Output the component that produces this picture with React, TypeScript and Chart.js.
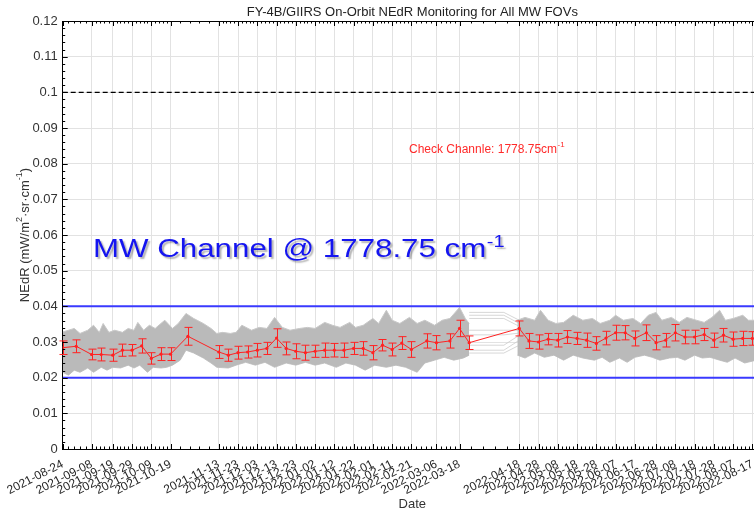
import React, { useEffect, useRef } from "react";
import { Chart, registerables } from "chart.js";

Chart.register(...registerables);

// ---------- data (days counted from 2021-08-24) ----------
const START = "2021-08-24";
const xMaxDay = 363;

const tickDates = [
  "2021-08-24", "2021-09-08", "2021-09-19", "2021-09-29", "2021-10-09", "2021-10-19",
  "2021-11-13", "2021-11-23", "2021-12-03", "2021-12-13", "2021-12-23", "2022-01-02",
  "2022-01-12", "2022-01-22", "2022-02-01", "2022-02-11", "2022-02-21", "2022-03-06",
  "2022-03-18", "2022-04-18", "2022-04-28", "2022-05-08", "2022-05-18", "2022-05-28",
  "2022-06-07", "2022-06-17", "2022-06-28", "2022-07-08", "2022-07-18", "2022-07-28",
  "2022-08-07", "2022-08-17",
];

const redDays = [0, 7, 15, 20, 26, 31, 36, 41, 46, 51, 56, 65, 81, 86, 91, 96, 101, 106, 111, 116,
  121, 126, 131, 136, 141, 146, 151, 156, 161, 166, 171, 176, 181, 189, 194, 201, 206, 211, 237, 242,
  247, 252, 257, 262, 267, 272, 277, 282, 287, 292, 297, 303, 308, 313, 318, 323, 328, 333, 338, 343,
  348, 353, 358];
const redMean = [0.0284, 0.0288, 0.0265, 0.0265, 0.0263, 0.0277, 0.0277, 0.0289, 0.0254, 0.0266,
  0.0266, 0.0316, 0.0272, 0.0263, 0.0270, 0.0272, 0.0277, 0.0282, 0.0311, 0.0282,
  0.0274, 0.0270, 0.0274, 0.0277, 0.0277, 0.0277, 0.0282, 0.0282, 0.0270, 0.0291,
  0.0279, 0.0297, 0.0279, 0.0303, 0.0298, 0.0303, 0.0338, 0.0298, 0.0338, 0.0303,
  0.0300, 0.0308, 0.0305, 0.0314, 0.0310, 0.0305, 0.0296, 0.0311, 0.0326, 0.0326,
  0.0310, 0.0326, 0.0298, 0.0305, 0.0326, 0.0314, 0.0314, 0.0321, 0.0305, 0.0319,
  0.0308, 0.0310, 0.0310];
const redErr = [0.0019, 0.0018, 0.0015, 0.0018, 0.0017, 0.0017, 0.0016, 0.0020, 0.0016, 0.0018,
  0.0018, 0.0025, 0.0018, 0.0017, 0.0018, 0.0017, 0.0019, 0.0017, 0.0026, 0.0018,
  0.0021, 0.0021, 0.0017, 0.0020, 0.0019, 0.0020, 0.0017, 0.0019, 0.0020, 0.0016,
  0.0018, 0.0018, 0.0022, 0.0020, 0.0020, 0.0020, 0.0023, 0.0019, 0.0021, 0.0021,
  0.0020, 0.0016, 0.0019, 0.0018, 0.0017, 0.0020, 0.0019, 0.0019, 0.0021, 0.0020,
  0.0021, 0.0022, 0.0020, 0.0019, 0.0023, 0.0019, 0.0019, 0.0017, 0.0020, 0.0019,
  0.0020, 0.0020, 0.0019];

// envelope of all FOV curves (grey band), first period
const bandTopDays1 = [0, 3, 6, 9, 13, 16, 19, 21, 24, 27, 31, 34, 37, 39, 42, 45, 48, 51, 53, 57,
  60, 64, 68, 73, 77, 80, 83, 87, 90, 93, 98, 102, 106, 110, 114, 118, 123, 127, 131, 136,
  140, 144, 149, 152, 156, 161, 164, 168, 171, 175, 180, 184, 188, 193, 197, 201, 206, 209, 211];
const bandTopVals1 = [0.0328, 0.0333, 0.0338, 0.0324, 0.0333, 0.0347, 0.0327, 0.0352, 0.0327, 0.0333,
  0.0327, 0.0338, 0.0333, 0.0355, 0.0333, 0.0347, 0.0338, 0.0352, 0.0361, 0.0338,
  0.0352, 0.0380, 0.0366, 0.0352, 0.0338, 0.0324, 0.0327, 0.0324, 0.0327, 0.0347,
  0.0333, 0.0341, 0.0338, 0.0369, 0.0341, 0.0333, 0.0338, 0.0341, 0.0338, 0.0355,
  0.0347, 0.0341, 0.0355, 0.0341, 0.0347, 0.0366, 0.0352, 0.0389, 0.0361, 0.0352,
  0.0369, 0.0352, 0.0361, 0.0347, 0.0361, 0.0366, 0.0397, 0.0366, 0.0352];
const bandLowDays1 = [0, 3, 6, 9, 13, 16, 20, 23, 26, 30, 34, 37, 40, 44, 47, 51, 54, 57, 61, 64,
  68, 73, 77, 80, 86, 90, 95, 100, 105, 110, 116, 121, 126, 131, 136, 142, 147, 152, 157, 162,
  168, 173, 178, 184, 188, 193, 198, 203, 208, 211];
const bandLowVals1 = [0.0215, 0.0207, 0.0221, 0.0215, 0.0227, 0.0215, 0.0229, 0.0221, 0.0229, 0.0227,
  0.0235, 0.0227, 0.0235, 0.0215, 0.0229, 0.0227, 0.0229, 0.0235, 0.0249, 0.0277,
  0.0269, 0.0255, 0.0241, 0.0229, 0.0227, 0.0235, 0.0243, 0.0235, 0.0243, 0.0229,
  0.0241, 0.0235, 0.0243, 0.0235, 0.0241, 0.0229, 0.0241, 0.0235, 0.0221, 0.0235,
  0.0229, 0.0235, 0.0229, 0.0215, 0.0241, 0.0249, 0.0257, 0.0249, 0.0255, 0.0263];

// second period
const bandTopDays2 = [236, 240, 245, 248, 252, 256, 260, 265, 270, 275, 279, 284, 287, 291, 296, 300,
  304, 308, 311, 316, 320, 324, 329, 333, 337, 341, 344, 348, 353, 356, 360];
const bandTopVals2 = [0.0361, 0.0369, 0.0361, 0.0389, 0.0361, 0.0352, 0.0355, 0.0375, 0.0361, 0.0366,
  0.0352, 0.0361, 0.0375, 0.0361, 0.0366, 0.0352, 0.0375, 0.0383, 0.0361, 0.0369,
  0.0355, 0.0369, 0.0361, 0.0355, 0.0369, 0.0389, 0.0361, 0.0366, 0.0375, 0.0361, 0.0361];
const bandLowDays2 = [236, 240, 245, 250, 255, 260, 265, 270, 276, 280, 284, 289, 293, 297, 302, 306,
  310, 315, 319, 323, 328, 332, 336, 341, 345, 349, 354, 360];
const bandLowVals2 = [0.0263, 0.0255, 0.0269, 0.0257, 0.0263, 0.0249, 0.0263, 0.0255, 0.0249, 0.0257,
  0.0243, 0.0255, 0.0243, 0.0257, 0.0263, 0.0257, 0.0249, 0.0255, 0.0257, 0.0249,
  0.0263, 0.0255, 0.0257, 0.0249, 0.0243, 0.0255, 0.0241, 0.0249];

// sparse FOV curves bridging the data gap
const gapDays = [211, 229, 237];
const gapStart = [0.0383, 0.0375, 0.0366, 0.0333, 0.0320, 0.0291, 0.0277, 0.0269];
const gapMid = [0.0383, 0.0375, 0.0366, 0.0333, 0.0320, 0.0291, 0.0277, 0.0269];
const gapEnd = [0.0361, 0.0352, 0.0344, 0.0333, 0.0325, 0.0319, 0.0305, 0.0291];

const checkLevel = 0.1;
const limitHigh = 0.04;
const limitLow = 0.02;

// ---------- helpers ----------
const FONT = "'Liberation Sans', Arial, Helvetica, sans-serif";
const dayOf = (s: string) => {
  const [y, m, d] = s.split("-").map(Number);
  const [y0, m0, d0] = START.split("-").map(Number);
  return Math.round((Date.UTC(y, m - 1, d) - Date.UTC(y0, m0 - 1, d0)) / 86400000);
};
const tickDays = tickDates.map(dayOf);
const pts = (xs: number[], ys: number[]) => xs.map((x, i) => ({ x, y: ys[i] }));

const decorPlugin = {
  id: "decor",
  afterDatasetsDraw(chart: any) {
    const { ctx, scales } = chart;
    const x = scales.x, y = scales.y;
    ctx.save();
    ctx.strokeStyle = "#ff2222";
    ctx.lineWidth = 1;
    redDays.forEach((d, i) => {
      const px = Math.round(x.getPixelForValue(d)) + 0.5;
      const yt = y.getPixelForValue(redMean[i] + redErr[i]);
      const yb = y.getPixelForValue(redMean[i] - redErr[i]);
      ctx.beginPath();
      ctx.moveTo(px, yt);
      ctx.lineTo(px, yb);
      ctx.moveTo(px - 4, yt);
      ctx.lineTo(px + 4, yt);
      ctx.moveTo(px - 4, yb);
      ctx.lineTo(px + 4, yb);
      ctx.stroke();
    });
    ctx.restore();
  },
  afterDraw(chart: any) {
    const { ctx, chartArea, scales } = chart;
    const { left, right, top, bottom } = chartArea;
    const x = scales.x, y = scales.y;
    ctx.save();
    // frame top / right
    ctx.strokeStyle = "#000";
    ctx.lineWidth = 1;
    ctx.beginPath();
    ctx.moveTo(left, Math.round(top) + 0.5);
    ctx.lineTo(right, Math.round(top) + 0.5);
    ctx.moveTo(Math.round(right) - 0.5, top);
    ctx.lineTo(Math.round(right) - 0.5, bottom);
    ctx.stroke();

    // x ticks (major + minor), inward on bottom and top
    ctx.beginPath();
    const xt = (d: number, len: number) => {
      const px = Math.round(x.getPixelForValue(d)) + 0.5;
      ctx.moveTo(px, bottom);
      ctx.lineTo(px, bottom - len);
      ctx.moveTo(px, top);
      ctx.lineTo(px, top + len);
    };
    tickDays.forEach((d, i) => {
      xt(d, 5);
      if (i < tickDays.length - 1) {
        const n = tickDays[i + 1];
        for (let k = 1; k < 5; k++) xt(d + ((n - d) * k) / 5, 2.5);
      }
    });
    // y ticks
    for (let k = 0; k <= 60; k++) {
      const v = k * 0.002;
      const py = Math.round(y.getPixelForValue(v)) + 0.5;
      const len = k % 5 === 0 ? 5 : 2.5;
      ctx.moveTo(left, py);
      ctx.lineTo(left + len, py);
      ctx.moveTo(right, py);
      ctx.lineTo(right - len, py);
    }
    ctx.stroke();

    // chart title
    ctx.fillStyle = "#222";
    ctx.font = `13px ${FONT}`;
    ctx.textAlign = "center";
    ctx.textBaseline = "alphabetic";
    ctx.fillText("FY-4B/GIIRS On-Orbit NEdR Monitoring for All MW FOVs", (left + right) / 2, 16);

    // y axis title with superscripts
    ctx.save();
    ctx.translate(25, (top + bottom) / 2);
    ctx.rotate(-Math.PI / 2);
    const parts: [string, boolean][] = [["NEdR (mW/m", false], ["2", true], ["·sr·cm", false], ["-1", true], [")", false]];
    const fMain = `13px ${FONT}`, fSup = `9px ${FONT}`;
    let total = 0;
    parts.forEach(([t, s]) => { ctx.font = s ? fSup : fMain; total += ctx.measureText(t).width; });
    let cx = -total / 2;
    ctx.fillStyle = "#333";
    ctx.textAlign = "left";
    ctx.textBaseline = "middle";
    parts.forEach(([t, s]) => {
      ctx.font = s ? fSup : fMain;
      ctx.fillText(t, cx, s ? -5 : 0);
      cx += ctx.measureText(t).width;
    });
    ctx.restore();

    // red annotation
    ctx.fillStyle = "#ff2a2a";
    ctx.textAlign = "left";
    ctx.textBaseline = "alphabetic";
    ctx.font = `12px ${FONT}`;
    const t1 = "Check Channle: 1778.75cm";
    const ax = 409, ay = 153;
    ctx.fillText(t1, ax, ay);
    const w1 = ctx.measureText(t1).width;
    ctx.font = `8px ${FONT}`;
    ctx.fillText("-1", ax + w1 + 0.5, ay - 6);

    // big overlay label
    ctx.save();
    ctx.translate(93, 257);
    ctx.scale(1.18, 1);
    ctx.shadowColor = "rgba(0,0,0,0.3)";
    ctx.shadowOffsetX = 2;
    ctx.shadowOffsetY = 2;
    ctx.shadowBlur = 1.5;
    ctx.fillStyle = "#1414f0";
    ctx.font = `26.5px ${FONT}`;
    const t2 = "MW Channel @ 1778.75 cm";
    ctx.fillText(t2, 0, 0);
    const w2 = ctx.measureText(t2).width;
    ctx.font = `17px ${FONT}`;
    ctx.fillText("-1", w2 + 0.5, -10.5);
    ctx.restore();

    ctx.restore();
  },
};

export default function App() {
  const ref = useRef<HTMLCanvasElement | null>(null);
  useEffect(() => {
    if (!ref.current) return;
    const grey = "rgb(186,186,186)";
    const greyEdge = "rgb(200,200,200)";
    const gapSets = gapStart.map((v, i) => ({
      label: `fov-gap-${i}`,
      data: pts(gapDays, [v, gapMid[i], gapEnd[i]]),
      borderColor: "rgb(205,205,205)",
      borderWidth: 0.8,
      pointRadius: 0,
      fill: false,
      order: 6,
    }));
    const chart = new Chart(ref.current, {
      type: "line",
      data: {
        datasets: [
          { label: "limitHigh", data: pts([0, xMaxDay], [limitHigh, limitHigh]), borderColor: "#3a3aff", borderWidth: 2, pointRadius: 0, fill: false, order: 0 },
          { label: "limitLow", data: pts([0, xMaxDay], [limitLow, limitLow]), borderColor: "#3a3aff", borderWidth: 2, pointRadius: 0, fill: false, order: 0 },
          { label: "check", data: pts([0, xMaxDay], [checkLevel, checkLevel]), borderColor: "#000", borderWidth: 1.2, borderDash: [5, 3], pointRadius: 0, fill: false, order: 0 },
          { label: "mean", data: pts(redDays, redMean), borderColor: "#ff2222", borderWidth: 1, pointRadius: 1.6, pointBackgroundColor: "#ff2222", pointBorderWidth: 0, fill: false, order: 1 },
          { label: "top1", data: pts(bandTopDays1, bandTopVals1), borderColor: greyEdge, borderWidth: 1, pointRadius: 0, fill: "+1", backgroundColor: grey, order: 5 },
          { label: "low1", data: pts(bandLowDays1, bandLowVals1), borderColor: greyEdge, borderWidth: 1, pointRadius: 0, fill: false, order: 5 },
          { label: "top2", data: pts(bandTopDays2, bandTopVals2), borderColor: greyEdge, borderWidth: 1, pointRadius: 0, fill: "+1", backgroundColor: grey, order: 5 },
          { label: "low2", data: pts(bandLowDays2, bandLowVals2), borderColor: greyEdge, borderWidth: 1, pointRadius: 0, fill: false, order: 5 },
          ...gapSets,
        ],
      },
      options: {
        responsive: false,
        maintainAspectRatio: false,
        animation: false,
        layout: { padding: { top: 21, right: 8, left: 0, bottom: 0 } },
        plugins: { legend: { display: false }, tooltip: { enabled: false }, title: { display: false } },
        elements: { line: { tension: 0 } },
        scales: {
          x: {
            type: "linear",
            min: 0,
            max: xMaxDay,
            afterBuildTicks: (s: any) => { s.ticks = tickDays.map((v) => ({ value: v })); },
            afterFit: (s: any) => { s.height = 60; },
            ticks: {
              autoSkip: false,
              minRotation: 27,
              maxRotation: 27,
              padding: 8,
              color: "#262626",
              font: { family: FONT, size: 12 },
              callback: (v: any) => { const i = tickDays.indexOf(Number(v)); return i >= 0 ? tickDates[i] : ""; },
            },
            grid: { color: "#e2e2e2", drawTicks: false },
            border: { color: "#000", width: 1 },
            title: { display: true, text: "Date", color: "#333", font: { family: FONT, size: 13 }, padding: { top: 0, bottom: -3 } },
          },
          y: {
            min: 0,
            max: 0.12,
            afterFit: (s: any) => { s.width = 62; },
            ticks: {
              stepSize: 0.01,
              padding: 5,
              color: "#333",
              font: { family: FONT, size: 13 },
              callback: (v: any) => String(Number(Number(v).toFixed(2))),
            },
            grid: { color: "#e2e2e2", drawTicks: false },
            border: { color: "#000", width: 1 },
          },
        },
      },
      plugins: [decorPlugin],
    } as any);
    return () => chart.destroy();
  }, []);
  return (
    <div style={{ position: "fixed", left: 0, top: 0, width: 754, height: 509, overflow: "hidden", background: "#fff" }}>
      <canvas ref={ref} width={770} height={509} style={{ display: "block" }} />
    </div>
  );
}
